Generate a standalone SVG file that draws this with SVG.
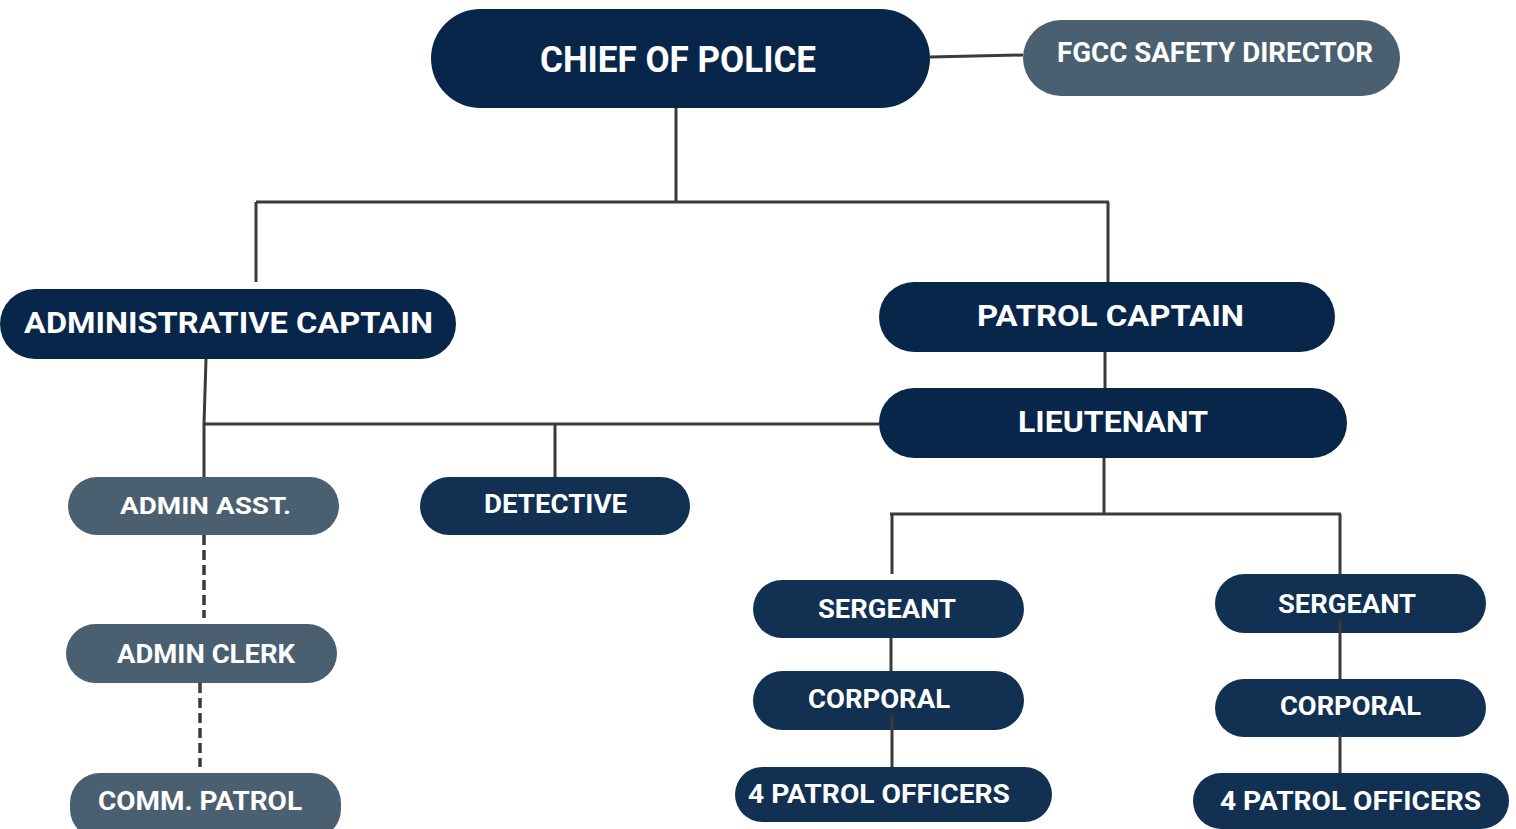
<svg xmlns="http://www.w3.org/2000/svg" width="1516" height="829" viewBox="0 0 1516 829">
<style>
.n1{fill:#07264a}
.n2{fill:#123152}
.n3{fill:#4a5f6f}
text{font-family:Roboto,"Liberation Sans",sans-serif;font-weight:bold;fill:#ffffff}
.c{stroke:#3a3a3a;stroke-width:3;fill:none}
.d{stroke:#3a3a3a;stroke-width:3.5;fill:none;stroke-dasharray:10,5}
</style>
<rect width="1516" height="829" fill="#ffffff"/>
<g id="connectors">
<path class="c" d="M930 57 L1023 55"/>
<path class="c" d="M676 108 V202 M256 202 H1109 M256 202 V282 M1108 202 V282"/>
<path class="c" d="M1105 352 V388"/>
<path class="c" d="M206 359 L204 424 H879 M204 424 V477 M555 424 V477"/>
<path class="d" d="M204 535 V618"/>
<path class="d" d="M200 683 V767"/>
<path class="c" d="M1104 458 V514 M890 514 H1341 M892 514 V574 M1340 514 V574"/>
</g>
<g id="chief"><rect class="n1" x="431" y="9" width="499" height="99" rx="49.5"/><text x="540" y="72" font-size="37" textLength="276" lengthAdjust="spacingAndGlyphs">CHIEF OF POLICE</text></g>
<g id="fgcc"><rect class="n3" x="1023" y="20" width="377" height="76" rx="38"/><text x="1057" y="62" font-size="27" textLength="316" lengthAdjust="spacingAndGlyphs">FGCC SAFETY DIRECTOR</text></g>
<g id="admin-captain"><rect class="n1" x="0" y="289" width="456" height="70" rx="35"/><text x="24" y="333" font-size="30" textLength="409" lengthAdjust="spacingAndGlyphs">ADMINISTRATIVE CAPTAIN</text></g>
<g id="patrol-captain"><rect class="n1" x="879" y="282" width="456" height="70" rx="35"/><text x="977" y="326" font-size="30" textLength="267" lengthAdjust="spacingAndGlyphs">PATROL CAPTAIN</text></g>
<g id="lieutenant"><rect class="n1" x="879" y="388" width="468" height="70" rx="35"/><text x="1018" y="432" font-size="30" textLength="190" lengthAdjust="spacingAndGlyphs">LIEUTENANT</text></g>
<g id="admin-asst"><rect class="n3" x="68" y="477" width="271" height="58" rx="29"/><text x="120" y="514" font-size="24" textLength="171" lengthAdjust="spacingAndGlyphs">ADMIN ASST.</text></g>
<g id="detective"><rect class="n2" x="420" y="477" width="270" height="58" rx="29"/><text x="484" y="513" font-size="25" textLength="143" lengthAdjust="spacingAndGlyphs">DETECTIVE</text></g>
<g id="admin-clerk"><rect class="n3" x="66" y="624" width="271" height="59" rx="29.5"/><text x="117" y="663" font-size="25" textLength="178" lengthAdjust="spacingAndGlyphs">ADMIN CLERK</text></g>
<g id="comm-patrol"><rect class="n3" x="70" y="773" width="271" height="66" rx="30"/><text x="98" y="810" font-size="25" textLength="204" lengthAdjust="spacingAndGlyphs">COMM. PATROL</text></g>
<g id="sergeant-left"><rect class="n2" x="753" y="580" width="271" height="58" rx="29"/><text x="818" y="618" font-size="25" textLength="138" lengthAdjust="spacingAndGlyphs">SERGEANT</text></g>
<g id="corporal-left"><rect class="n2" x="753" y="671" width="271" height="59" rx="29.5"/><text x="808" y="708" font-size="25" textLength="142" lengthAdjust="spacingAndGlyphs">CORPORAL</text></g>
<g id="officers-left"><rect class="n2" x="735" y="767" width="317" height="55" rx="27.5"/><text x="748" y="803" font-size="25" textLength="262" lengthAdjust="spacingAndGlyphs">4 PATROL OFFICERS</text></g>
<g id="sergeant-right"><rect class="n2" x="1215" y="574" width="271" height="59" rx="29.5"/><text x="1278" y="613" font-size="25" textLength="138" lengthAdjust="spacingAndGlyphs">SERGEANT</text></g>
<g id="corporal-right"><rect class="n2" x="1215" y="679" width="271" height="58" rx="29"/><text x="1280" y="715" font-size="25" textLength="141" lengthAdjust="spacingAndGlyphs">CORPORAL</text></g>
<g id="officers-right"><rect class="n2" x="1193" y="773" width="316" height="56" rx="28"/><text x="1220" y="810" font-size="25" textLength="261" lengthAdjust="spacingAndGlyphs">4 PATROL OFFICERS</text></g>
<g id="connectors-over">
<path class="c" d="M891 638 V671 M892 715 V767 M1340 620 V679 M1340 735 V773"/>
</g>
</svg>
